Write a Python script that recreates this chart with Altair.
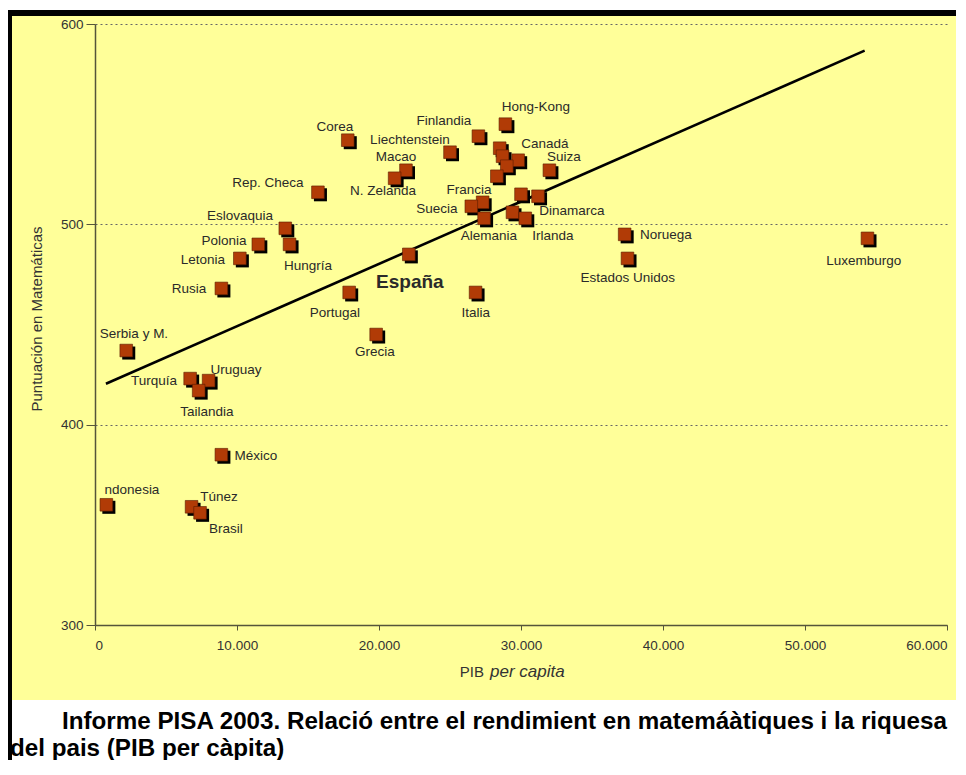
import altair as alt
import pandas as pd

# ---- data ----
countries = ["Hong-Kong", "Finlandia", "Corea", "Países Bajos", "Liechtenstein", "Japón",
             "Canadá", "Bélgica", "Macao", "Suiza", "Australia", "N. Zelanda", "Rep. Checa",
             "Islandia", "Dinamarca", "Francia", "Suecia", "Austria", "Alemania", "Irlanda",
             "Eslovaquia", "Noruega", "Luxemburgo", "Polonia", "Hungría", "España", "Letonia",
             "Estados Unidos", "Rusia", "Portugal", "Italia", "Grecia", "Serbia y M.", "Turquía",
             "Uruguay", "Tailandia", "México", "Indonesia", "Túnez", "Brasil"]
pib = [28900, 27000, 17800, 28500, 25000, 28700,
       29800, 29000, 21900, 32000, 28300, 21100, 15700,
       30000, 31200, 27300, 26500, 29400, 27400, 30300,
       13400, 37300, 54400, 11500, 13700, 22100, 10200,
       37500, 8900, 17900, 26800, 19800, 2200, 6700,
       8000, 7300, 8900, 800, 6800, 7400]
matematicas = [550, 544, 542, 538, 536, 534,
               532, 529, 527, 527, 524, 523, 516,
               515, 514, 511, 509, 506, 503, 503,
               498, 495, 493, 490, 490, 485, 483,
               483, 468, 466, 466, 445, 437, 423,
               422, 417, 385, 360, 359, 356]

labels = ["Hong-Kong", "Finlandia", "Corea", "Liechtenstein", "Canadá", "Macao", "Suiza",
          "N. Zelanda", "Rep. Checa", "Francia", "Suecia", "Dinamarca", "Eslovaquia",
          "Polonia", "Letonia", "Hungría", "Rusia", "Serbia y M.", "Portugal", "Grecia",
          "Alemania", "Irlanda", "Italia", "Noruega", "Estados Unidos", "Luxemburgo",
          "Uruguay", "Turquía", "Tailandia", "México", "ndonesia", "Túnez", "Brasil"]
label_x = [31046, 24570, 16896, 22176, 31680, 21190, 33018,
           20275, 12179, 26330, 24077, 33581, 10208,
           9082, 7603, 14995, 6618, 2746, 16896, 19712,
           27738, 32243, 26822, 40198, 37523, 54138,
           9926, 4154, 7885, 11334, 2605, 8730, 9222]
label_y = [558.5, 551.5, 548.5, 542, 540, 533.5, 533.5,
           516.5, 520.5, 517, 507.5, 506.5, 504,
           491.5, 482, 479, 467.5, 445.5, 455.5, 436.5,
           494, 494, 455.5, 494.5, 473, 481.5,
           427.5, 422, 406.5, 384.5, 367.5, 364, 348]

highlight = ["España"]
highlight_x = [22176]
highlight_y = [471]

trend_x = [770, 54200]
trend_y = [420.4, 586.7]

x_ticks = [0, 10000, 20000, 30000, 40000, 50000, 60000]
y_ticks = [300, 400, 500, 600]

title_line1 = "Informe PISA 2003. Relació entre el rendimient en matemáàtiques i la riquesa"
title_line2 = "del pais (PIB per càpita)"
y_title = "Puntuación en Matemáticas"

# ---- tables ----
pts = pd.DataFrame({"pais": countries, "pib": pib, "mat": matematicas})
labs = pd.DataFrame({"t": labels, "lx": label_x, "ly": label_y})
hl = pd.DataFrame({"t": highlight, "lx": highlight_x, "ly": highlight_y})
trend = pd.DataFrame({"pib": trend_x, "mat": trend_y})
one = pd.DataFrame({"a": [0]})

FONT = "Liberation Sans"
AX = "#55553a"
xscale = alt.Scale(domain=[0, 60000], nice=False, zero=False)
yscale = alt.Scale(domain=[300, 600], nice=False, zero=False)

xaxis = alt.Axis(values=x_ticks, labelExpr="replace(format(datum.value, ','), ',', '.')",
                 grid=False, domainColor=AX, domainWidth=1.5, tickColor=AX, tickSize=5,
                 labelPadding=8, labelFont=FONT, labelFontSize=13.5, labelColor="#333",
                 labelFlush=True, labelOverlap=False, title=None)
yaxis = alt.Axis(values=y_ticks, grid=True, gridDash=[2, 3], gridColor="#666",
                 gridWidth=1, domainColor=AX, domainWidth=1.5, tickColor=AX, tickSize=9,
                 labelPadding=3, labelFont=FONT, labelFontSize=13.5, labelColor="#333",
                 labelFlush=False, title=None)

BOTTOM = 736
bottom_white = alt.Chart(one).mark_rect(color="white").encode(
    x=alt.value(-87), x2=alt.value(870), y=alt.value(676), y2=alt.value(BOTTOM))
top_white = alt.Chart(one).mark_rect(color="white").encode(
    x=alt.value(-87), x2=alt.value(870), y=alt.value(-16), y2=alt.value(-14))
top_black = alt.Chart(one).mark_rect(color="black").encode(
    x=alt.value(-87), x2=alt.value(870), y=alt.value(-14), y2=alt.value(-8))
left_black = alt.Chart(one).mark_rect(color="black").encode(
    x=alt.value(-87), x2=alt.value(-83), y=alt.value(-14), y2=alt.value(BOTTOM))

line = alt.Chart(trend).mark_line(color="black", strokeWidth=2.6).encode(
    x=alt.X("pib:Q", scale=xscale, axis=xaxis),
    y=alt.Y("mat:Q", scale=yscale, axis=yaxis))

shadow = alt.Chart(pts).mark_square(size=170, color="black", opacity=1,
                                    xOffset=2.5, yOffset=2.5).encode(
    x=alt.X("pib:Q", scale=xscale, axis=xaxis),
    y=alt.Y("mat:Q", scale=yscale, axis=yaxis))
front = alt.Chart(pts).mark_square(size=160, color="#B13B06", opacity=1,
                                   stroke="#5a1c00", strokeWidth=0.6).encode(
    x=alt.X("pib:Q", scale=xscale, axis=xaxis),
    y=alt.Y("mat:Q", scale=yscale, axis=yaxis))

texts = alt.Chart(labs).mark_text(font=FONT, fontSize=13.5, color="#2a2a2a",
                                  align="center", baseline="middle").encode(
    x=alt.X("lx:Q", scale=xscale, axis=xaxis),
    y=alt.Y("ly:Q", scale=yscale, axis=yaxis),
    text="t:N")
spain = alt.Chart(hl).mark_text(font=FONT, fontSize=19, fontWeight="bold", color="#2a2a2a",
                                align="center", baseline="middle").encode(
    x=alt.X("lx:Q", scale=xscale, axis=xaxis),
    y=alt.Y("ly:Q", scale=yscale, axis=yaxis),
    text="t:N")

xt1 = alt.Chart(one).mark_text(font=FONT, fontSize=15, color="#333", align="right",
                               baseline="middle").encode(
    x=alt.value(389), y=alt.value(648), text=alt.value("PIB"))
xt2 = alt.Chart(one).mark_text(font=FONT, fontSize=17, fontStyle="italic", color="#333",
                               align="left", baseline="middle").encode(
    x=alt.value(395), y=alt.value(648), text=alt.value("per capita"))
yt = alt.Chart(one).mark_text(font=FONT, fontSize=15, color="#333", angle=270,
                              align="center", baseline="middle").encode(
    x=alt.value(-58), y=alt.value(295), text=alt.value(y_title))

t1 = alt.Chart(one).mark_text(font=FONT, fontSize=24.2, fontWeight="bold", color="black",
                              align="left", baseline="alphabetic").encode(
    x=alt.value(-33), y=alt.value(705), text=alt.value(title_line1))
t2 = alt.Chart(one).mark_text(font=FONT, fontSize=24.2, fontWeight="bold", color="black",
                              align="left", baseline="alphabetic").encode(
    x=alt.value(-85), y=alt.value(732), text=alt.value(title_line2))

chart = alt.layer(
    bottom_white, top_white, top_black, left_black,
    line, shadow, front, texts, spain, xt1, xt2, yt, t1, t2
).properties(
    width=852, height=601,
    padding={"left": 87, "top": 16, "right": 9, "bottom": 135},
    autosize=alt.AutoSizeParams(type="none"),
    background="#FFFF99",
).configure_view(stroke=None)

chart.save("out.html", embed_options={"renderer": "svg", "actions": False})
